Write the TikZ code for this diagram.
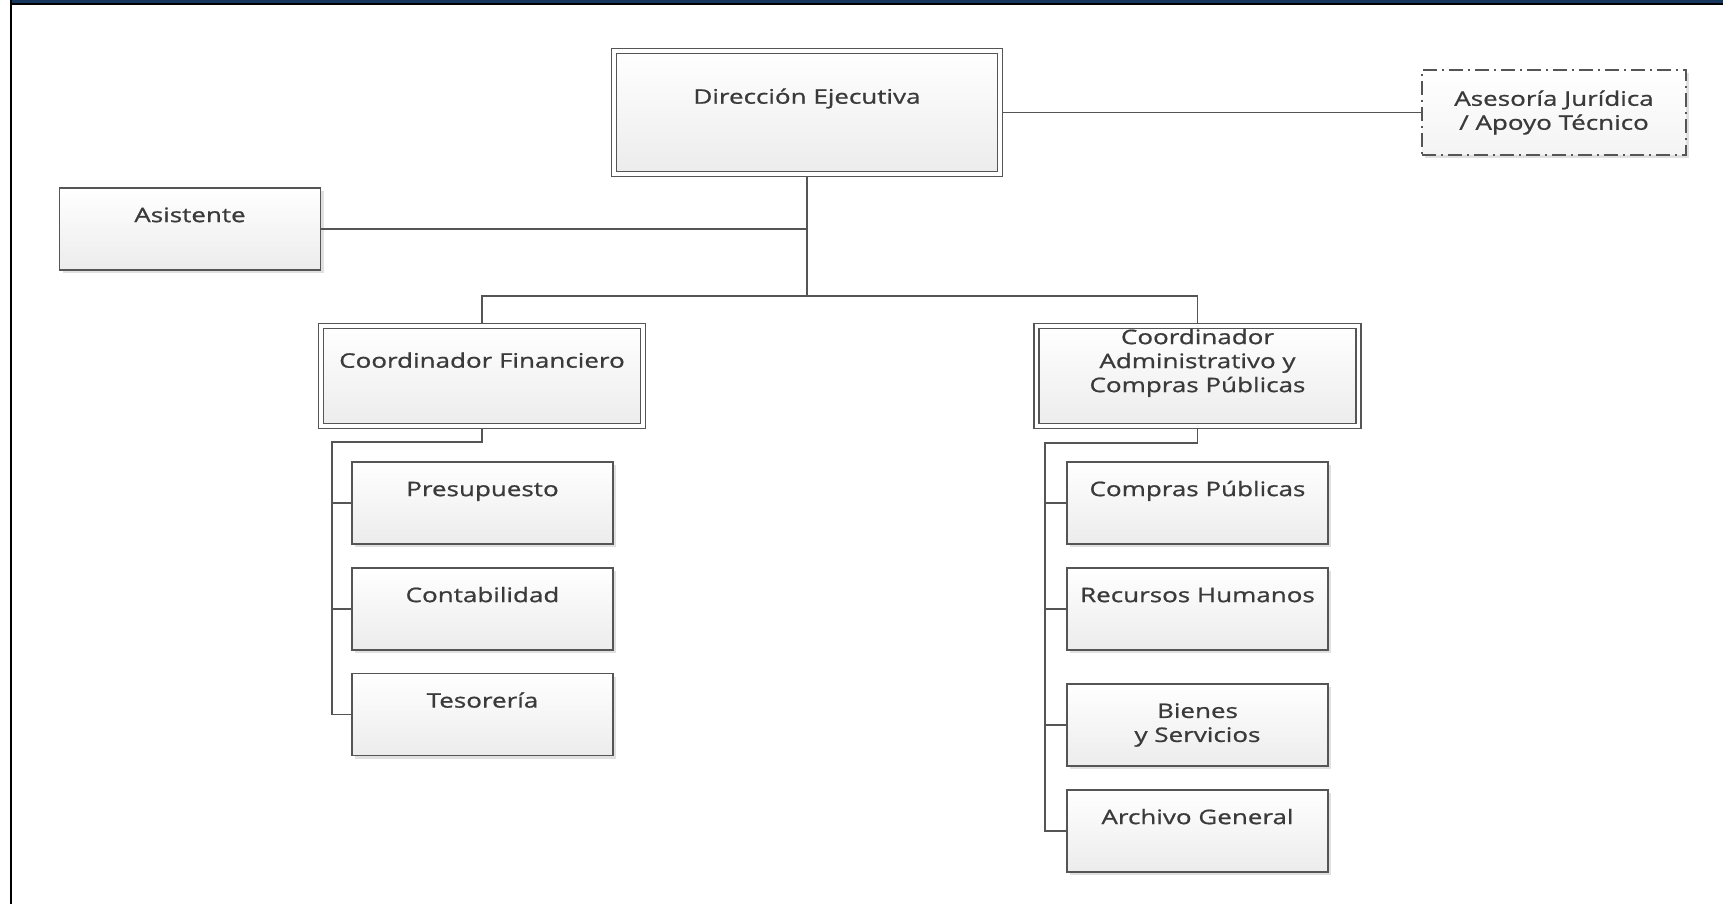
\documentclass[tikz,border=0pt]{standalone}
\usepackage{fontspec}
\setmainfont{Open Sans}[FakeStretch=1.3,FakeBold=0.9]
\usetikzlibrary{shadows}

\definecolor{boxline}{HTML}{555555}
\definecolor{boxfill}{HTML}{ECECEC}
\definecolor{txtgray}{HTML}{3A3A3A}
\definecolor{bandnavy}{HTML}{17365D}
\newcommand\unitfont{\fontsize{20}{24}\selectfont}

\tikzset{
  unit/.style={draw=boxline, line width=1.8pt, top color=white, bottom color=boxfill,
    minimum width=261pt, minimum height=82pt, inner sep=0pt,
    font=\unitfont, text=txtgray, align=center,
    drop shadow={shadow xshift=3pt, shadow yshift=-3pt, fill=black, opacity=0.12}},
  head/.style={unit, line width=1.6pt, double=white, double distance=3.4pt, outer sep=3.3pt},
  advisor/.style={unit, line width=1.6pt, bottom color=boxfill!60,
    dash pattern=on 14pt off 5pt on 2pt off 5pt},
  unitlabel/.style 2 args={label={[anchor=base, yshift=-#1, font=\unitfont, text=txtgray,
    align=center, inner sep=0pt]north:#2}},
  link/.style={draw=boxline, line width=1.9pt}
}

\begin{document}
\begin{tikzpicture}[x=1pt,y=-1pt]
\useasboundingbox[fill=white] (0,0) rectangle (1723,904);
% frame
\fill[bandnavy] (11,0) rectangle (1723,3.5);
\draw[black, line width=1.7pt] (11,4.3) -- (1723,4.3);
\draw[black, line width=2pt] (11,0) -- (11,904);

% top level
\node[head, minimum width=386pt, minimum height=123pt, unitlabel={56pt}{Dirección Ejecutiva}] (dir) at (807,112.5) {};
\node[advisor, minimum width=264pt, minimum height=85pt] (aseso) at (1554,112.5) {Asesoría Jurídica\\/ Apoyo Técnico};
\node[unit, unitlabel={35pt}{Asistente}] (asist) at (190,229) {};

% coordinadores
\node[head, minimum width=322pt, minimum height=100pt, unitlabel={45pt}{Coordinador Financiero}] (cfin) at (482,376) {};
\node[head, minimum width=322pt, minimum height=100pt,
  label={[anchor=north, yshift=-6pt, font=\unitfont, text=txtgray, align=center, inner sep=0pt]north:Coordinador\\Administrativo y\\Compras Públicas}] (cadm) at (1197.5,376) {};

% financiero
\node[unit, unitlabel={35pt}{Presupuesto}] (presup) at (482.5,503) {};
\node[unit, unitlabel={35pt}{Contabilidad}] (contab) at (482.5,609) {};
\node[unit, unitlabel={35pt}{Tesorería}] (tesor) at (482.5,714.5) {};

% administrativo
\node[unit, unitlabel={35pt}{Compras Públicas}] (compras) at (1197.5,503) {};
\node[unit, unitlabel={35pt}{Recursos Humanos}] (rrhh) at (1197.5,609) {};
\node[unit] (bienes) at (1197.5,725) {Bienes\\y Servicios};
\node[unit, unitlabel={35pt}{Archivo General}] (archivo) at (1197.5,831) {};

% connectors
\coordinate (hub) at (807,296);
\coordinate (lsp) at (332,442);
\coordinate (rsp) at (1045,443);
\draw[link] (dir.east) -- (aseso.west);
\draw[link] (dir.south) -- (hub);
\draw[link] (asist.east) -- (asist.east -| hub);
\draw[link] (cfin.north) |- (hub) -| (cadm.north);
\draw[link] (cfin.south) |- (lsp) |- (tesor.west);
\foreach \n in {presup,contab}
  \draw[link] (\n.west -| lsp) -- (\n.west);
\draw[link] (cadm.south) |- (rsp) |- (archivo.west);
\foreach \n in {compras,rrhh,bienes}
  \draw[link] (\n.west -| rsp) -- (\n.west);
\end{tikzpicture}
\end{document}
